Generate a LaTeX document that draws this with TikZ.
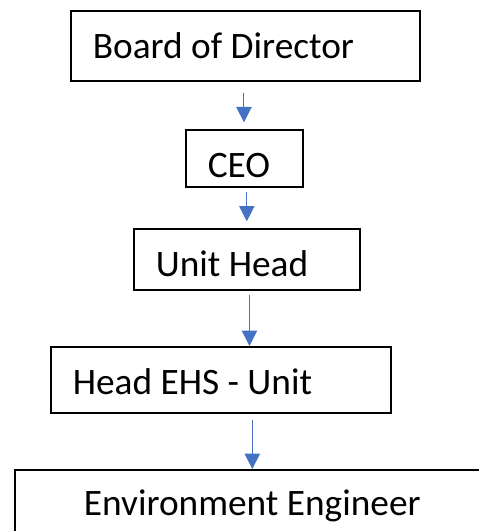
\documentclass[tikz,border=0pt]{standalone}
\usepackage{fontspec}
\setmainfont{Carlito}
\usetikzlibrary{arrows.meta}

\definecolor{bleu}{HTML}{4472C4}

\tikzset{cadre/.style = {draw, line width=1.2pt, anchor=north west,
                         inner xsep=16.5pt, inner ysep=0pt,
                         align=flush left, font=\fontsize{28}{32}\selectfont,
                         text height=35.5pt, text depth=#1},
         cadre/.default=15pt,
         fleche/.style = {draw=bleu, fill=bleu, line width=0.75pt,
                          -{Triangle[width=11.5pt,length=11.5pt]}}
        }

\begin{document}
\begin{tikzpicture}
  \useasboundingbox (0,0) rectangle (358.5pt,-398.25pt);
  \node[cadre=17.25pt, text width=228.75pt] (board) at (52.5pt,-7.5pt) {Board of Director};
  \node[cadre=7.5pt, text width=54.75pt] (ceo) at (138.75pt,-96.75pt) {CEO};
  \node[cadre=10.5pt, text width=136.5pt] (unit) at (99.75pt,-171pt) {Unit Head};
  \node[cadre=14.25pt, text width=222pt] (ehs) at (37.5pt,-259.5pt) {Head EHS - Unit};
  \node[cadre, text width=323.25pt, align=flush center, text height=34.5pt] (env) at (10.5pt,-351.75pt) {Environment Engineer};

  \draw[fleche, shorten <=8pt, shorten >=5pt] ([xshift=-1pt]board.south) -- ([xshift=-1pt]board.south |- ceo.north);
  \draw[fleche, shorten <=3pt, shorten >=5pt] (ceo.south -| unit.north) -- (unit.north);
  \draw[fleche, shorten <=3pt] ([xshift=2pt]unit.south) -- ([xshift=2pt]unit.south |- ehs.north);
  \draw[fleche, shorten <=4.5pt] (ehs.south -| env.north) -- (env.north);
\end{tikzpicture}
\end{document}
